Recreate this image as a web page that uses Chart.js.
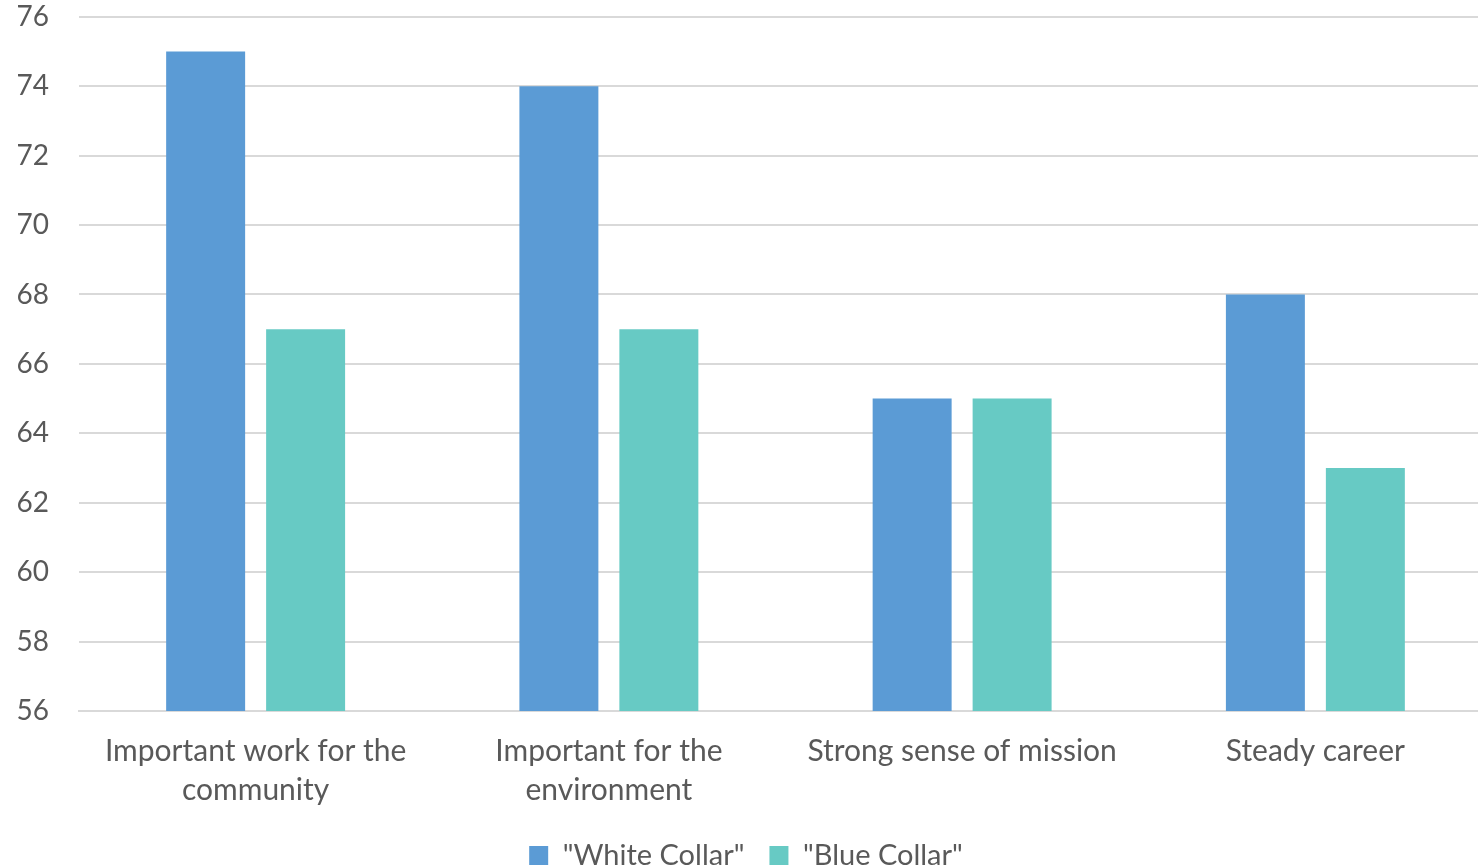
<!DOCTYPE html>
<html><head><meta charset="utf-8">
<script src="https://cdn.jsdelivr.net/npm/chart.js@4"></script>
<style>html,body{margin:0;padding:0;overflow:hidden;background:#fff}#wrap{width:1492px;height:910px;position:relative;margin-top:-30px}</style>
</head><body><div id="wrap"><canvas id="c"></canvas></div>
<script>
const categories = [["Important work for the","community"],["Important for the","environment"],"Strong sense of mission","Steady career"];
const whiteCollar = [75, 74, 65, 68];
const blueCollar = [67, 67, 65, 63];
const seriesNames = ['"White Collar"', '"Blue Collar"'];
const FONT = "Lato, 'Open Sans', sans-serif";
new Chart(document.getElementById('c'), {
  type: 'bar',
  data: { labels: categories, datasets: [
    { label: seriesNames[0], data: whiteCollar, backgroundColor: '#5B9BD5' },
    { label: seriesNames[1], data: blueCollar, backgroundColor: '#67CAC4' }
  ]},
  options: {
    responsive: true, maintainAspectRatio: false, animation: false,
    categoryPercentage: 0.566, barPercentage: 0.79,
    layout: { padding: { top: 0, right: 0, left: 0, bottom: 0 } },
    plugins: {
      tooltip: { enabled: false },
      legend: { position: 'bottom', labels: { font: { family: FONT, size: 29 }, color: '#595959', boxWidth: 19, boxHeight: 19, padding: 25 } }
    },
    scales: {
      y: { min: 56, max: 76, ticks: { stepSize: 2, font: { family: FONT, size: 28 }, color: '#595959', padding: 30 },
           grid: { color: '#d9d9d9', lineWidth: 2, drawTicks: false }, border: { display: false },
           afterFit: s => { s.width = 79; } },
      x: { ticks: { font: { family: FONT, size: 30, lineHeight: 1.3 }, color: '#595959', padding: 21, maxRotation: 0 },
           grid: { display: false, drawTicks: false }, border: { color: '#d9d9d9', width: 2 },
           afterFit: s => { s.height = 105; } }
    }
  }
});
</script></body></html>
